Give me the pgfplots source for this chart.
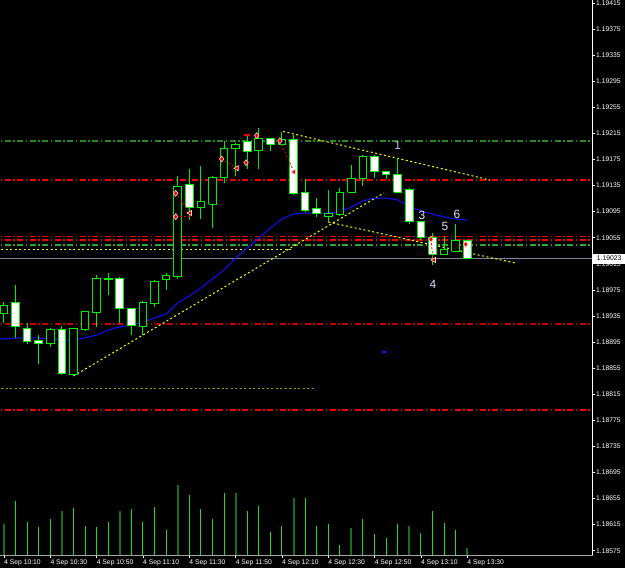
\documentclass[border=0pt]{standalone}
\usepackage{fontspec}
\setmainfont{Liberation Sans}
\usepackage{pgfplots}
\pgfplotsset{compat=1.18}
\definecolor{mtlime}{HTML}{00EE00}
\definecolor{mtvol}{HTML}{22DD22}
\definecolor{mtdkgreen}{HTML}{1A6E1A}
\definecolor{mtgreenA}{HTML}{2A8A2A}
\definecolor{mtgreenB}{HTML}{3AA03A}
\definecolor{mtred}{HTML}{EE0000}
\definecolor{mtdkred}{HTML}{C00000}
\definecolor{mtyellow}{HTML}{FFFF00}
\definecolor{mtolive}{HTML}{9A9A00}
\definecolor{mtblue}{HTML}{1010FF}
\definecolor{pline}{HTML}{778899}
\definecolor{wavec}{HTML}{DCE0FF}
\definecolor{wave1}{HTML}{A8C8F0}
% candle: index, style, low, body low, body high, high
\newcommand{\candle}[6]{%
  \pgfmathsetmacro{\xa}{#1-0.33}\pgfmathsetmacro{\xb}{#1+0.33}%
  \addplot[mtlime, line width=1bp] coordinates {(#1,#3) (#1,#6)};
  \addplot[#2] coordinates {(\xa,#4) (\xb,#4) (\xb,#5) (\xa,#5) (\xa,#4)};
}
\pgfplotsset{
  bull/.style={draw=mtlime, fill=black, line width=1bp},
  bear/.style={draw=mtlime, fill=white, line width=1bp},
  hdd/.style={line width=1.1bp, dash pattern=on 6bp off 2.5bp on 1.5bp off 2.5bp},
  dotl/.style={line width=1bp, dash pattern=on 2bp off 2.5bp},
}
\begin{document}
\begin{tikzpicture}[x=1bp,y=1bp]
\fill[black] (-2bp,-2bp) rectangle (627bp,570bp);
% volume axis
\begin{axis}[at={(0bp,12.3bp)}, anchor=south west, width=592.5bp, height=555.7bp, scale only axis,
  xmin=-0.345, xmax=50.82, ymin=0, ymax=2778.5, hide axis]
\addplot[ycomb, mtvol, line width=1bp] coordinates {(1,273) (2,168) (3,143) (4,183) (6,238) (7,148) (8,143) (9,168) (11,233) (12,168) (13,243) (14,128) (16,303) (17,234) (18,183) (19,313) (21,223) (22,249) (23,118) (24,148) (26,288) (27,148) (28,158) (29,53) (31,183) (32,108) (33,89) (34,158) (36,113) (37,223) (38,163) (39,129)};
\addplot[ycomb, mtdkgreen, line width=2bp] coordinates {(0,158) (5,223) (10,223) (15,354) (20,314) (25,288) (30,138) (35,148) (40,38)};
\end{axis}
% price axis
\begin{axis}[at={(0bp,12.3bp)}, anchor=south west, width=592.5bp, height=555.7bp, scale only axis,
  xmin=-0.345, xmax=50.82, ymin=1.185673, ymax=1.194196,
  axis line style={draw=none},
  tick align=outside, major tick length=2.5bp, tick style={white, line width=0.6bp},
  xtick pos=left, ytick pos=right, xticklabel pos=left, yticklabel pos=right,
  xtick={0,4,8,12,16,20,24,28,32,36,40},
  xticklabels={4 Sep 10:10,4 Sep 10:30,4 Sep 10:50,4 Sep 11:10,4 Sep 11:30,4 Sep 11:50,4 Sep 12:10,4 Sep 12:30,4 Sep 12:50,4 Sep 13:10,4 Sep 13:30},
  ytick={1.18575,1.18615,1.18655,1.18695,1.18735,1.18775,1.18815,1.18855,1.18895,1.18935,1.18975,1.19015,1.19055,1.19095,1.19135,1.19175,1.19215,1.19255,1.19295,1.19335,1.19375,1.19415},
  yticklabels={1.18575,1.18615,1.18655,1.18695,1.18735,1.18775,1.18815,1.18855,1.18895,1.18935,1.18975,1.19015,1.19055,1.19095,1.19135,1.19175,1.19215,1.19255,1.19295,1.19335,1.19375,1.19415},
  scaled y ticks=false,
  xticklabel style={font=\fontsize{6.8}{8}\selectfont, text=white, anchor=north west, xshift=-1bp, inner sep=1bp},
  yticklabel style={font=\fontsize{6.8}{8}\selectfont, text=white, anchor=west, inner sep=1bp},
]
% horizontal levels
\addplot[hdd, mtgreenA] coordinates {(-1,1.192033) (52,1.192033)};
\addplot[hdd, mtred] coordinates {(-1,1.191435) (52,1.191435)};
\addplot[hdd, mtred] coordinates {(-1,1.190562) (52,1.190562)};
\addplot[hdd, mtred] coordinates {(-1,1.190515) (52,1.190515)};
\addplot[hdd, mtgreenB] coordinates {(-1,1.190438) (52,1.190438)};
\addplot[hdd, mtdkred] coordinates {(-1,1.189227) (52,1.189227)};
\addplot[hdd, mtred] coordinates {(-1,1.187908) (52,1.187908)};
\addplot[dotl, mtyellow] coordinates {(-1,1.190362) (24.96,1.190362)};
\addplot[dotl, mtolive] coordinates {(-1,1.188230) (26.9,1.188230)};
\addplot[pline, line width=1bp] coordinates {(-1,1.19023) (52,1.19023)};
% trend lines
\addplot[dotl, mtyellow] coordinates {(6,1.188429) (32.8,1.191236)};
\addplot[dotl, mtyellow] coordinates {(24.1,1.192179) (41.97,1.191435)};
\addplot[dotl, mtyellow] coordinates {(28,1.190791) (44.13,1.190162)};
% moving average
\addplot[mtblue, line width=1bp] coordinates {(-1,1.188997) (0,1.188997) (1,1.189012) (2,1.189012) (3,1.189012) (4,1.188997) (5,1.188981) (6,1.188981) (7,1.189012) (8,1.189058) (9,1.189135) (10,1.189181) (11,1.189211) (12,1.189257) (13,1.189319) (14,1.189380) (15,1.189549) (16,1.189656) (17,1.189779) (18,1.189917) (19,1.190055) (20,1.190239) (21,1.190392) (22,1.190546) (23,1.190699) (24,1.190837) (25,1.190914) (26,1.190929) (27,1.190929) (28,1.190929) (29,1.190945) (30,1.191021) (31,1.191113) (32,1.191159) (33,1.191159) (34,1.191129) (35,1.191037) (36,1.190960) (37,1.190914) (38,1.190868) (39,1.190837) (40,1.190822)};
\addplot[mtblue, line width=1.2bp] coordinates {(32.65,1.188797) (33.1,1.188797)};
% candles
\candle{0}{bull}{1.189242}{1.189380}{1.189518}{1.189564}
\candle{1}{bear}{1.189012}{1.189181}{1.189549}{1.189825}
\candle{2}{bear}{1.188920}{1.188951}{1.189165}{1.189242}
\candle{3}{bear}{1.188613}{1.188920}{1.188966}{1.189058}
\candle{4}{bull}{1.188874}{1.188920}{1.189135}{1.189165}
\candle{5}{bear}{1.188445}{1.188460}{1.189135}{1.189196}
\candle{6}{bull}{1.188429}{1.188445}{1.189150}{1.189165}
\candle{7}{bull}{1.189120}{1.189135}{1.189411}{1.189426}
\candle{8}{bull}{1.189181}{1.189396}{1.189917}{1.189978}
\candle{9}{bull}{1.189672}{1.189902}{1.189932}{1.190009}
\candle{10}{bear}{1.189242}{1.189457}{1.189932}{1.189948}
\candle{11}{bear}{1.189058}{1.189196}{1.189457}{1.189472}
\candle{12}{bull}{1.189058}{1.189181}{1.189564}{1.189580}
\candle{13}{bull}{1.189488}{1.189534}{1.189871}{1.189902}
\candle{14}{bull}{1.189748}{1.189902}{1.189963}{1.190009}
\candle{15}{bull}{1.189917}{1.189948}{1.191343}{1.191497}
\candle{16}{bear}{1.190822}{1.191021}{1.191359}{1.191604}
\candle{17}{bull}{1.190837}{1.191021}{1.191098}{1.191650}
\candle{18}{bull}{1.190699}{1.191067}{1.191481}{1.191497}
\candle{19}{bull}{1.191389}{1.191481}{1.191911}{1.192033}
\candle{20}{bull}{1.191497}{1.191911}{1.191987}{1.192003}
\candle{21}{bear}{1.191604}{1.191865}{1.192018}{1.192110}
\candle{22}{bull}{1.191604}{1.191880}{1.192064}{1.192233}
\candle{23}{bear}{1.191880}{1.191987}{1.192064}{1.192079}
\candle{24}{bull}{1.191957}{1.191972}{1.192049}{1.192172}
\candle{25}{bear}{1.191205}{1.191221}{1.192049}{1.192126}
\candle{26}{bear}{1.190945}{1.190960}{1.191236}{1.191451}
\candle{27}{bear}{1.190868}{1.190914}{1.190991}{1.191159}
\candle{28}{bull}{1.190791}{1.190883}{1.190914}{1.191282}
\candle{29}{bull}{1.190883}{1.190899}{1.191236}{1.191313}
\candle{30}{bull}{1.191251}{1.191251}{1.191451}{1.191665}
\candle{31}{bull}{1.191343}{1.191451}{1.191788}{1.191819}
\candle{32}{bear}{1.191466}{1.191558}{1.191788}{1.191819}
\candle{33}{bear}{1.191451}{1.191527}{1.191573}{1.191573}
\candle{34}{bear}{1.191251}{1.191251}{1.191512}{1.191773}
\candle{35}{bear}{1.190761}{1.190791}{1.191282}{1.191313}
\candle{36}{bear}{1.190515}{1.190546}{1.190791}{1.190806}
\candle{37}{bear}{1.190132}{1.190300}{1.190546}{1.190622}
\candle{38}{bull}{1.190300}{1.190300}{1.190362}{1.190561}
\candle{39}{bull}{1.190346}{1.190346}{1.190500}{1.190761}
\candle{40}{bear}{1.190230}{1.190230}{1.190500}{1.190515}
% trade history
\addplot[mtred, line width=0.8bp, dash pattern=on 2bp off 2bp] coordinates {(14.83,1.191231) (16.06,1.190929)};
\addplot[mtred, line width=0.8bp, dash pattern=on 2bp off 2bp] coordinates {(14.83,1.190872) (16.06,1.190872)};
\addplot[mtred, line width=0.8bp, dash pattern=on 2bp off 2bp] coordinates {(18.8,1.191757) (20.1,1.191615)};
\addplot[mtred, line width=0.8bp, dash pattern=on 2bp off 2bp] coordinates {(23.83,1.192038) (25.04,1.191558)};
\addplot[mtred, line width=0.8bp, dash pattern=on 2bp off 2bp] coordinates {(36.87,1.190526) (37.05,1.190208)};
\addplot[mtred, line width=1.2bp] coordinates {(20.75,1.192126) (21.2,1.192126)};
\addplot[only marks, mark=diamond*, mark size=3bp, mark options={fill=mtred, draw=white!80!red, line width=0.6bp}] coordinates {(14.83,1.191231) (14.83,1.190872) (18.8,1.191757) (20.9,1.191701) (21.82,1.192115) (23.83,1.192038) (36.87,1.190526) (39.87,1.190449)};
\addplot[only marks, mark=triangle*, mark size=3bp, mark options={rotate=90, fill=mtred, draw=white!80!red, line width=0.6bp}] coordinates {(16.06,1.190929) (20.1,1.191615) (25.04,1.191558) (37.13,1.190208)};
% wave labels
\node[text=wave1, font=\fontsize{12}{12}\selectfont] at (axis cs:34.0,1.191972) {1};
\node[text=wavec, font=\fontsize{12}{12}\selectfont] at (axis cs:36.1,1.190899) {3};
\node[text=wavec, font=\fontsize{12}{12}\selectfont] at (axis cs:37.05,1.189840) {4};
\node[text=wavec, font=\fontsize{12}{12}\selectfont] at (axis cs:38.08,1.190730) {5};
\node[text=wavec, font=\fontsize{12}{12}\selectfont] at (axis cs:39.12,1.190914) {6};
\coordinate (cp) at (axis cs:0,1.19023);
\end{axis}
\draw[white, line width=1bp] (592.5bp,12.3bp) -- (592.5bp,570bp);
\draw[white!65!black, line width=1.5bp] (-2bp,12.3bp) -- (592.5bp,12.3bp);
\coordinate (rx) at (593bp,0bp);
\node[fill=white, text=black, anchor=west, minimum width=32bp, minimum height=10bp, inner sep=0pt, font=\fontsize{6.8}{8}\selectfont] at (cp -| rx) {1.19023};
\pgfresetboundingbox
\useasboundingbox (0bp,0bp) rectangle (625bp,568bp);
\end{tikzpicture}
\end{document}
